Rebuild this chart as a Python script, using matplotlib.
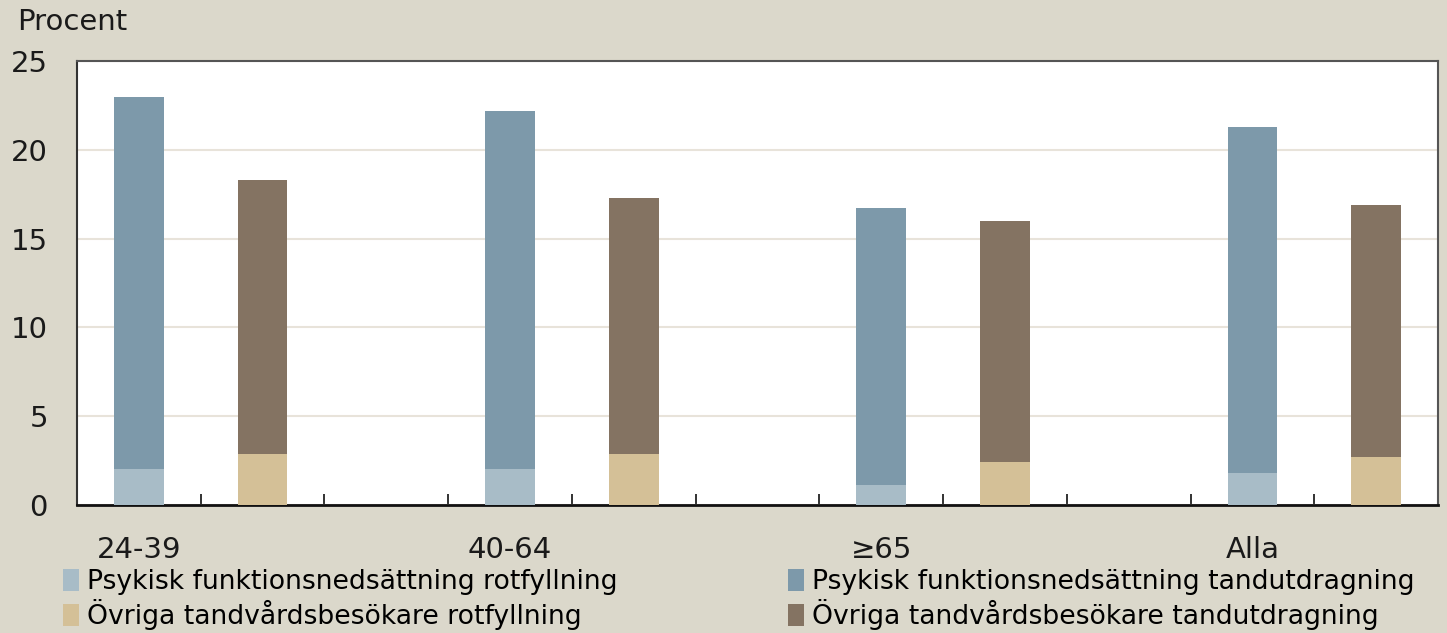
import matplotlib.pyplot as plt
import matplotlib.ticker as mticker
import numpy as np

plt.rcParams['font.family'] = ['DejaVu Sans']

# Data (percent)
categories = ['24-39', '40-64', '≥65', 'Alla']
psyk_rot = [2.0, 2.0, 1.1, 1.8]
psyk_tand = [21.0, 20.2, 15.6, 19.5]
ovr_rot = [2.9, 2.9, 2.4, 2.7]
ovr_tand = [15.4, 14.4, 13.6, 14.2]

labels = [
    'Psykisk funktionsnedsättning rotfyllning',
    'Psykisk funktionsnedsättning tandutdragning',
    'Övriga tandvårdsbesökare rotfyllning',
    'Övriga tandvårdsbesökare tandutdragning',
]

COLORS = {
    'psyk_rot': '#a8bcc7',
    'psyk_tand': '#7d99aa',
    'ovr_rot': '#d4c097',
    'ovr_tand': '#847362',
}
BG = '#dbd8cb'

fig = plt.figure(figsize=(14.47, 6.33), dpi=100, facecolor=BG)
ax = fig.add_axes([0.0532, 0.2022, 0.9406, 0.7014])
ax.set_facecolor('white')

x = np.arange(len(categories)) * 3
w = 0.4
ax.bar(x, psyk_rot, w, color=COLORS['psyk_rot'], label=labels[0], zorder=3)
ax.bar(x, psyk_tand, w, bottom=psyk_rot, color=COLORS['psyk_tand'], label=labels[1], zorder=3)
ax.bar(x + 1, ovr_rot, w, color=COLORS['ovr_rot'], label=labels[2], zorder=3)
ax.bar(x + 1, ovr_tand, w, bottom=ovr_rot, color=COLORS['ovr_tand'], label=labels[3], zorder=3)

ax.set_xlim(-0.5, len(categories) * 3 - 1.5)
ax.set_ylim(0, 25)
ax.yaxis.set_major_locator(mticker.MultipleLocator(5))
ax.grid(axis='y', color='#e8e3da', linewidth=1.5, zorder=0)
ax.tick_params(axis='y', length=0, pad=21, labelsize=21, labelcolor='#1a1a1a')

# slot boundary ticks (no labels), category labels as minor ticks
ax.set_xticks(np.arange(0.5, len(categories) * 3 - 1.5, 1.0))
ax.set_xticklabels([])
ax.tick_params(axis='x', which='major', direction='in', length=8, width=1.3, color='#222222')
ax.set_xticks(x, minor=True)
ax.set_xticklabels(categories, minor=True)
ax.tick_params(axis='x', which='minor', length=0, pad=22, labelsize=21, labelcolor='#1a1a1a')

for side in ['top', 'right']:
    ax.spines[side].set_color('#555555')
    ax.spines[side].set_linewidth(1.5)
ax.spines['left'].set_color('#333333')
ax.spines['left'].set_linewidth(1.5)
ax.spines['bottom'].set_color('#111111')
ax.spines['bottom'].set_linewidth(2)

fig.text(0.012, 0.966, 'Procent', fontsize=21, color='#1a1a1a', va='center', ha='left')

h, l = ax.get_legend_handles_labels()
order = [0, 2, 1, 3]
fig.legend([h[i] for i in order], [l[i] for i in order], ncol=2,
           loc='lower left', bbox_to_anchor=(0.036, -0.012), frameon=False,
           fontsize=19.2, handlelength=0.6, handleheight=0.9, handletextpad=0.3,
           columnspacing=6.4, labelspacing=0.15, borderaxespad=0)

fig.savefig('out.png', dpi=100, facecolor=BG)
